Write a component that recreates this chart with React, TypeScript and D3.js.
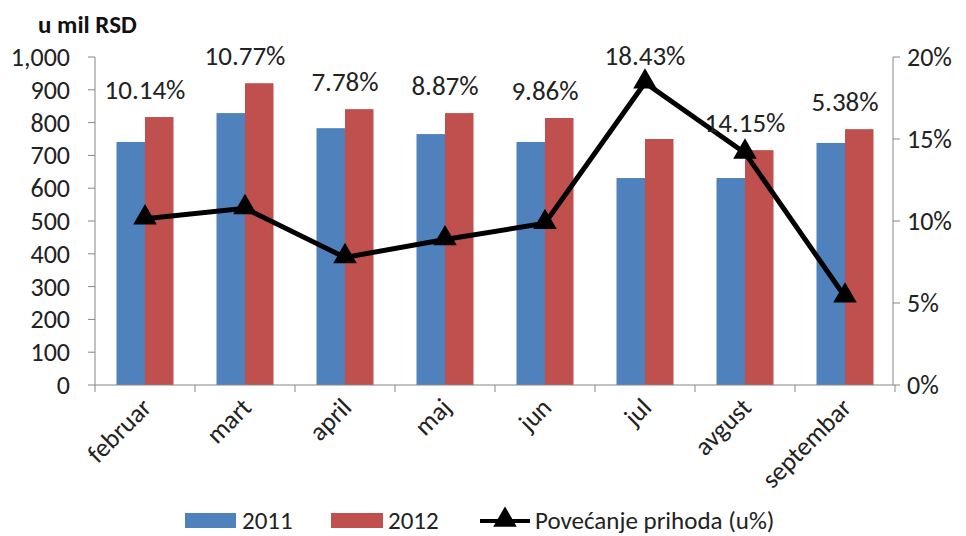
import React, { useRef, useEffect } from "react";
import * as d3 from "d3";

const months = ["februar", "mart", "april", "maj", "jun", "jul", "avgust", "septembar"];
const values2011 = [741, 829, 783, 765, 741, 631, 631, 738];
const values2012 = [817, 920, 841, 829, 814, 750, 716, 780];
const growth = [10.14, 10.77, 7.78, 8.87, 9.86, 18.43, 14.15, 5.38];
const leftTicks = [0, 100, 200, 300, 400, 500, 600, 700, 800, 900, 1000];
const rightTicks = [0, 5, 10, 15, 20];

const W = 966;
const H = 536;
const FONT = "Carlito, Lato, 'Open Sans', sans-serif";

function App() {
  const svgRef = useRef<SVGSVGElement>(null);

  useEffect(() => {
    const svg = d3.select(svgRef.current);
    svg.selectAll("*").remove();

    const left = 95, right = 895, top = 57, bottom = 385;

    const x = d3.scaleBand().domain(months).range([left, right]).padding(0);
    const xInner = d3.scaleBand().domain(["2011", "2012"]).range([21.5, 78.5]).padding(0);
    const y = d3.scaleLinear().domain([0, 1000]).range([bottom, top]);
    const yR = d3.scaleLinear().domain([0, 20]).range([bottom, top]);

    const axisColor = "#868686";

    // bars
    const series = [
      { key: "2011", values: values2011, color: "#4F81BD" },
      { key: "2012", values: values2012, color: "#C0504D" },
    ];
    series.forEach((s) => {
      svg
        .append("g")
        .selectAll("rect")
        .data(s.values)
        .join("rect")
        .attr("x", (d, i) => x(months[i])! + xInner(s.key)!)
        .attr("y", (d) => y(d))
        .attr("width", xInner.bandwidth())
        .attr("height", (d) => bottom - y(d))
        .attr("fill", s.color);
    });

    // left axis
    const gl = svg.append("g");
    gl.append("line").attr("x1", left).attr("x2", left).attr("y1", top).attr("y2", bottom).attr("stroke", axisColor);
    leftTicks.forEach((t) => {
      gl.append("line").attr("x1", left - 7).attr("x2", left).attr("y1", y(t)).attr("y2", y(t)).attr("stroke", axisColor);
      gl.append("text")
        .attr("x", 70)
        .attr("y", y(t) + 9)
        .attr("text-anchor", "end")
        .attr("font-size", 26)
        .attr("font-family", FONT)
        .attr("fill", "#222")
        .text(d3.format(",")(t));
    });

    // right axis
    const gr = svg.append("g");
    gr.append("line").attr("x1", 893).attr("x2", 893).attr("y1", top).attr("y2", bottom).attr("stroke", axisColor);
    rightTicks.forEach((t) => {
      gr.append("line").attr("x1", 893).attr("x2", 900).attr("y1", yR(t)).attr("y2", yR(t)).attr("stroke", axisColor);
      gr.append("text")
        .attr("x", 907)
        .attr("y", yR(t) + 9)
        .attr("font-size", 26)
        .attr("font-family", FONT)
        .attr("fill", "#222")
        .text(t + "%");
    });

    // bottom axis
    const gb = svg.append("g");
    gb.append("line").attr("x1", left).attr("x2", 893).attr("y1", bottom).attr("y2", bottom).attr("stroke", axisColor);
    d3.range(months.length + 1).forEach((i) => {
      const xx = left + i * x.bandwidth();
      gb.append("line").attr("x1", xx).attr("x2", xx).attr("y1", bottom).attr("y2", bottom + 7).attr("stroke", axisColor);
    });
    months.forEach((m) => {
      const cx = x(m)! + x.bandwidth() / 2;
      gb.append("text")
        .attr("transform", `translate(${cx + 8},${bottom + 24}) rotate(-45)`)
        .attr("text-anchor", "end")
        .attr("font-size", 26)
        .attr("font-family", FONT)
        .attr("fill", "#222")
        .text(m);
    });

    // line
    const cxOf = (i: number) => x(months[i])! + x.bandwidth() / 2;
    const line = d3.line<number>().x((d, i) => cxOf(i)).y((d) => yR(d));
    svg.append("path").datum(growth).attr("d", line).attr("fill", "none").attr("stroke", "#000").attr("stroke-width", 5).attr("stroke-linejoin", "miter");

    const tri = d3.symbol().type(d3.symbolTriangle).size(240);
    svg
      .append("g")
      .selectAll("path")
      .data(growth)
      .join("path")
      .attr("d", tri)
      .attr("transform", (d, i) => `translate(${cxOf(i)},${yR(d) - 1})`)
      .attr("fill", "#000");

    // labels
    svg
      .append("g")
      .selectAll("text")
      .data(growth)
      .join("text")
      .attr("x", (d, i) => cxOf(i))
      .attr("y", (d, i) => Math.min(y(values2012[i]), yR(d)) - 18)
      .attr("text-anchor", "middle")
      .attr("font-size", 27)
      .attr("font-family", FONT)
      .attr("fill", "#222")
      .text((d) => d.toFixed(2) + "%");

    // title
    svg.append("text")
      .attr("x", 38)
      .attr("y", 33)
      .attr("font-size", 25)
      .attr("font-weight", "bold")
      .attr("font-family", FONT)
      .attr("fill", "#111")
      .text("u mil RSD");

    // legend
    const lg = svg.append("g").attr("font-family", FONT).attr("font-size", 25).attr("fill", "#222");
    lg.append("rect").attr("x", 185).attr("y", 513).attr("width", 51).attr("height", 15).attr("fill", "#4F81BD");
    lg.append("text").attr("x", 242).attr("y", 529).text("2011");
    lg.append("rect").attr("x", 331).attr("y", 513).attr("width", 52).attr("height", 15).attr("fill", "#C0504D");
    lg.append("text").attr("x", 388).attr("y", 529).text("2012");
    lg.append("line").attr("x1", 480).attr("x2", 530).attr("y1", 521).attr("y2", 521).attr("stroke", "#000").attr("stroke-width", 4);
    lg.append("path").attr("d", tri).attr("transform", "translate(505,520)").attr("fill", "#000");
    lg.append("text").attr("x", 535).attr("y", 529).text("Povećanje prihoda (u%)");
  }, []);

  return (
    <svg
      ref={svgRef}
      width={W}
      height={H}
      style={{ position: "absolute", left: 0, top: 0, background: "#fff" }}
    />
  );
}

export default App;
